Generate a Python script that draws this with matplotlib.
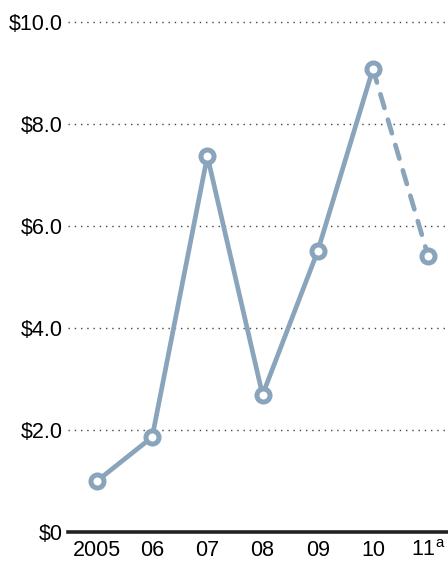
import matplotlib
matplotlib.use('Agg')
import matplotlib.pyplot as plt

# jaren en waarden (in dollars)
jaren = ['2005', '06', '07', '08', '09', '10', '11$^{\\mathrm{a}}$']
waarden = [1.0, 1.86, 7.37, 2.69, 5.51, 9.08, 5.41]
y_ticks = [0, 2, 4, 6, 8, 10]
y_labels = ['$0', '$2.0', '$4.0', '$6.0', '$8.0', '$10.0']

kleur = '#8aa5bb'
plt.rcParams['font.family'] = ['Liberation Sans', 'DejaVu Sans']
plt.rcParams['mathtext.fontset'] = 'custom'
plt.rcParams['mathtext.rm'] = 'Liberation Sans'

fig = plt.figure(figsize=(4.48, 5.63), dpi=100)
ax = fig.add_axes([68 / 448, 31 / 563, 380 / 448, 510 / 563])

x = list(range(len(jaren)))

# rasterlijnen
for t in y_ticks[1:]:
    ax.axhline(t, color='#444444', lw=1.0, ls=(0, (1, 3.5)), zorder=1, clip_on=False)
ax.axhline(0, color='#222222', lw=2.6, zorder=2, clip_on=False)

# doorgetrokken deel en gestippeld deel (raming)
ax.plot(x[:-1], waarden[:-1], color=kleur, lw=3.4, solid_capstyle='round',
        solid_joinstyle='round', zorder=3)
ax.plot(x[-2:], waarden[-2:], color=kleur, lw=3.4, ls=(0, (3.0, 2.6)),
        dash_capstyle='round', zorder=3)
ax.plot(x, waarden, ls='none', marker='o', ms=9.4, mfc='white', mec=kleur,
        mew=3.6, zorder=4)

ax.set_xlim(-0.525, 6.36)
ax.set_ylim(0, 10)
ax.set_yticks(y_ticks)
ax.set_yticklabels(y_labels, fontsize=15.5)
ax.set_xticks(x)
ax.set_xticklabels(jaren, fontsize=15.5)
ax.tick_params(length=0)
ax.tick_params(axis='y', pad=4)
ax.tick_params(axis='x', pad=6)
for s in ax.spines.values():
    s.set_visible(False)

fig.savefig('out.png', dpi=100)
